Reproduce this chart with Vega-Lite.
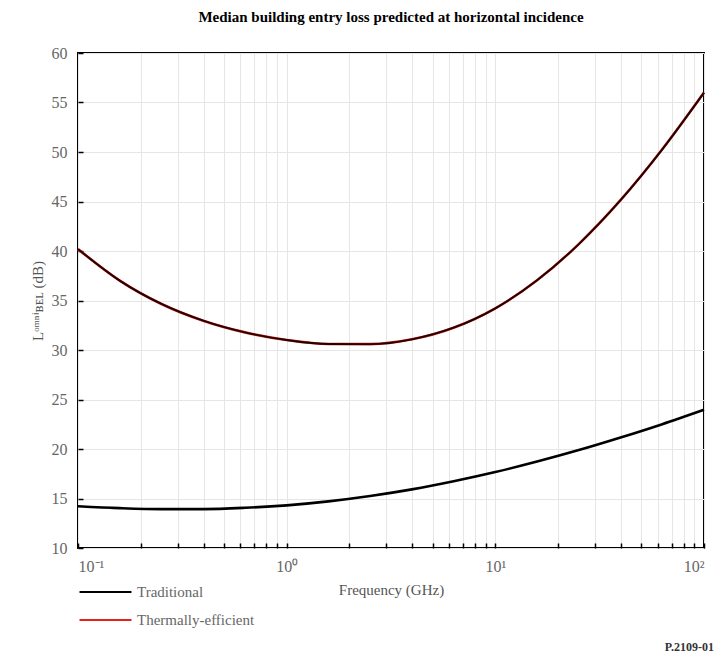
{
  "$schema": "https://vega.github.io/schema/vega-lite/v6.json",
  "autosize": "none",
  "width": 626,
  "height": 495,
  "padding": {"left": 78, "top": 53, "right": 15, "bottom": 107},
  "background": "white",
  "title": {
    "text": "Median building entry loss predicted at horizontal incidence",
    "font": "Liberation Serif",
    "fontSize": 15,
    "fontWeight": "bold",
    "color": "black",
    "anchor": "middle",
    "offset": 20
  },
  "config": {
    "font": "Liberation Serif",
    "view": {"stroke": "black", "strokeWidth": 2},
    "axis": {
      "labelFont": "Liberation Serif",
      "titleFont": "Liberation Serif",
      "labelColor": "#666",
      "titleColor": "#555",
      "labelFontSize": 16,
      "titleFontSize": 15,
      "titleFontWeight": "normal",
      "gridColor": "#e6e6e6",
      "gridWidth": 1,
      "domain": false,
      "tickColor": "black",
      "tickWidth": 1.5
    },
    "legend": {
      "labelFont": "Liberation Serif",
      "labelFontSize": 15,
      "labelColor": "#666"
    }
  },
  "data": {
    "values": [
      {"f": 0.1, "loss": 14.22, "type": "Traditional"},
      {"f": 0.1585, "loss": 14.03, "type": "Traditional"},
      {"f": 0.2512, "loss": 13.93, "type": "Traditional"},
      {"f": 0.3981, "loss": 13.93, "type": "Traditional"},
      {"f": 0.631, "loss": 14.06, "type": "Traditional"},
      {"f": 1, "loss": 14.31, "type": "Traditional"},
      {"f": 1.585, "loss": 14.71, "type": "Traditional"},
      {"f": 2.512, "loss": 15.25, "type": "Traditional"},
      {"f": 3.981, "loss": 15.92, "type": "Traditional"},
      {"f": 6.31, "loss": 16.74, "type": "Traditional"},
      {"f": 10, "loss": 17.67, "type": "Traditional"},
      {"f": 15.85, "loss": 18.73, "type": "Traditional"},
      {"f": 25.12, "loss": 19.89, "type": "Traditional"},
      {"f": 39.81, "loss": 21.16, "type": "Traditional"},
      {"f": 63.1, "loss": 22.51, "type": "Traditional"},
      {"f": 100, "loss": 23.96, "type": "Traditional"},
      {"f": 0.1, "loss": 40.19, "type": "Thermally-efficient"},
      {"f": 0.1585, "loss": 37.01, "type": "Thermally-efficient"},
      {"f": 0.2512, "loss": 34.65, "type": "Thermally-efficient"},
      {"f": 0.3981, "loss": 32.96, "type": "Thermally-efficient"},
      {"f": 0.631, "loss": 31.78, "type": "Thermally-efficient"},
      {"f": 1, "loss": 31.01, "type": "Thermally-efficient"},
      {"f": 1.585, "loss": 30.6, "type": "Thermally-efficient"},
      {"f": 2.512, "loss": 30.59, "type": "Thermally-efficient"},
      {"f": 3.981, "loss": 31.08, "type": "Thermally-efficient"},
      {"f": 6.31, "loss": 32.25, "type": "Thermally-efficient"},
      {"f": 10, "loss": 34.21, "type": "Thermally-efficient"},
      {"f": 15.85, "loss": 37.04, "type": "Thermally-efficient"},
      {"f": 25.12, "loss": 40.7, "type": "Thermally-efficient"},
      {"f": 39.81, "loss": 45.13, "type": "Thermally-efficient"},
      {"f": 63.1, "loss": 50.27, "type": "Thermally-efficient"},
      {"f": 100, "loss": 56.0, "type": "Thermally-efficient"}
    ]
  },
  "layer": [
    {
      "mark": {"type": "line", "strokeWidth": 2.6, "interpolate": "monotone"},
      "encoding": {
        "x": {
          "field": "f",
          "type": "quantitative",
          "scale": {"type": "log", "domain": [0.1, 100], "nice": false},
          "axis": {
            "values": [0.1, 0.2, 0.3, 0.4, 0.5, 0.6, 0.7, 0.8, 0.9, 1, 2, 3, 4, 5, 6, 7, 8, 9, 10, 20, 30, 40, 50, 60, 70, 80, 90, 100],
            "labelExpr": "datum.value == 0.1 ? '10⁻¹' : datum.value == 1 ? '10⁰' : datum.value == 10 ? '10¹' : datum.value == 100 ? '10²' : ''",
            "tickSize": -5,
            "labelPadding": 15,
            "title": "Frequency (GHz)",
            "titlePadding": 8
          }
        },
        "y": {
          "field": "loss",
          "type": "quantitative",
          "scale": {"domain": [10, 60], "nice": false, "zero": false},
          "axis": {
            "values": [10, 15, 20, 25, 30, 35, 40, 45, 50, 55, 60],
            "tickSize": -5,
            "labelPadding": 16,
            "title": "Lᵒᵐⁿⁱʙᴇʟ (dB)",
            "titlePadding": 6
          }
        },
        "color": {
          "field": "type",
          "type": "nominal",
          "scale": {"domain": ["Traditional", "Thermally-efficient"], "range": ["black", "#e8201c"]},
          "legend": {
            "orient": "none",
            "legendX": 0,
            "legendY": 530,
            "title": null,
            "symbolType": "stroke",
            "symbolSize": 2700,
            "symbolStrokeWidth": 2.2,
            "clipHeight": 18,
            "labelFont": "Liberation Serif",
            "labelFontSize": 15,
            "labelColor": "#666",
            "rowPadding": 10,
            "labelOffset": 4
          }
        }
      }
    },
    {
      "transform": [{"filter": "datum.type == 'Thermally-efficient'"}],
      "mark": {"type": "line", "strokeWidth": 1.9, "color": "#1a0505", "interpolate": "monotone"},
      "encoding": {
        "x": {"field": "f", "type": "quantitative"},
        "y": {"field": "loss", "type": "quantitative"}
      }
    },
    {
      "data": {"values": [{"label": "P.2109-01"}]},
      "mark": {"type": "text", "font": "Liberation Serif", "fontSize": 12, "fontWeight": "bold", "align": "right", "baseline": "middle", "dx": 10, "color": "#333"},
      "encoding": {
        "x": {"datum": 100, "type": "quantitative"},
        "y": {"datum": 0, "type": "quantitative"},
        "text": {"field": "label", "type": "nominal"}
      }
    }
  ]
}
